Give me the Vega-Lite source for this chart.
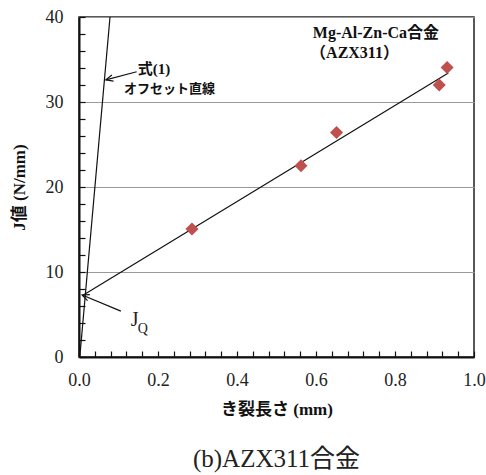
{
  "$schema": "https://vega.github.io/schema/vega-lite/v6.json",
  "autosize": {"type": "none"},
  "width": 395,
  "height": 340,
  "padding": {"left": 79, "top": 17, "right": 12, "bottom": 118},
  "background": "white",
  "config": {
    "view": {"stroke": "#222", "strokeWidth": 1.5},
    "font": "'Liberation Serif', 'Noto Sans CJK JP'",
    "axis": {
      "domainColor": "#111", "domainWidth": 2, "tickColor": "#111", "tickWidth": 1.2,
      "labelFont": "Liberation Serif", "labelFontSize": 18, "labelColor": "#222", "labelOverlap": false,
      "titleFont": "'Liberation Serif', 'Noto Sans CJK JP'", "titleFontSize": 17, "titleFontWeight": "bold", "titleColor": "#111"
    }
  },
  "title": {"text": "(b)AZX311合金", "orient": "bottom", "anchor": "middle", "offset": 30, "fontSize": 25, "fontWeight": "normal", "font": "'Liberation Serif', 'Noto Sans CJK JP'", "color": "#222"},
  "datasets": {
    "pts": [
      {"a": 0.286, "J": 15.05},
      {"a": 0.562, "J": 22.5},
      {"a": 0.652, "J": 26.4},
      {"a": 0.912, "J": 32.0},
      {"a": 0.932, "J": 34.05}
    ],
    "segs": [
      {"seg": "fit", "a": 0.008, "J": 7.2},
      {"seg": "fit", "a": 0.935, "J": 33.4},
      {"seg": "offset", "a": 0.002, "J": 0},
      {"seg": "offset", "a": 0.0785, "J": 40},
      {"seg": "arrow1", "a": 0.146, "J": 33.56},
      {"seg": "arrow1", "a": 0.068, "J": 32.6},
      {"seg": "arrowQ", "a": 0.106, "J": 5.4},
      {"seg": "arrowQ", "a": 0.008, "J": 7.3}
    ],
    "labels": [
      {"t": "Mg-Al-Zn-Ca合金", "a": 0.592, "J": 38.1, "k": "alloy"},
      {"t": "（AZX311）", "a": 0.585, "J": 35.8, "k": "alloy"},
      {"t": "式(1)", "a": 0.149, "J": 33.9, "k": "eq"},
      {"t": "オフセット直線", "a": 0.114, "J": 31.5, "k": "off"}
    ]
  },
  "layer": [
    {
      "data": {"name": "segs"},
      "mark": {"type": "line", "color": "#111", "strokeWidth": 1.2, "clip": true},
      "encoding": {
        "x": {"field": "a", "type": "quantitative", "scale": {"domain": [0, 1], "nice": false},
          "axis": {"values": [0,0.04,0.08,0.12,0.16,0.2,0.24,0.28,0.32,0.36,0.4,0.44,0.48,0.52,0.56,0.6,0.64,0.68,0.72,0.76,0.8,0.84,0.88,0.92,0.96,1.0],
            "tickCount": 100,
            "labelExpr": "abs(datum.value*5 - round(datum.value*5)) < 0.001 ? format(datum.value, '.1f') : ''",
            "tickSize": -6, "labelPadding": 20, "grid": false, "title": "き裂長さ (mm)", "titlePadding": 12, "labelFlush": false}},
        "y": {"field": "J", "type": "quantitative", "scale": {"domain": [0, 40], "nice": false},
          "axis": {"values": [0,2,4,6,8,10,12,14,16,18,20,22,24,26,28,30,32,34,36,38,40],
            "tickCount": 100,
            "labelExpr": "datum.value % 10 === 0 ? format(datum.value, 'd') : ''",
            "tickSize": -6, "labelPadding": 22, "grid": true, "gridWidth": 1,
            "gridColor": {"condition": {"test": "datum.value % 10 === 0", "value": "#999999"}, "value": "transparent"},
            "title": "J値 (N/mm)", "titlePadding": 17, "labelFlush": false}},
        "detail": {"field": "seg"},
        "order": {"field": "a"}
      }
    },
    {
      "data": {"name": "segs"},
      "transform": [{"filter": "datum.seg === 'arrow1' && datum.a < 0.1"}],
      "mark": {"type": "point", "shape": "M-0.45,1L0,0L0.45,1", "filled": false, "stroke": "#111", "strokeWidth": 1.2, "size": 200, "angle": 255, "opacity": 1},
      "encoding": {"x": {"field": "a", "type": "quantitative"}, "y": {"field": "J", "type": "quantitative"}}
    },
    {
      "data": {"name": "segs"},
      "transform": [{"filter": "datum.seg === 'arrowQ' && datum.a < 0.05"}],
      "mark": {"type": "point", "shape": "M-0.45,1L0,0L0.45,1", "filled": false, "stroke": "#111", "strokeWidth": 1.2, "size": 200, "angle": 292, "opacity": 1},
      "encoding": {"x": {"field": "a", "type": "quantitative"}, "y": {"field": "J", "type": "quantitative"}}
    },
    {
      "data": {"name": "pts"},
      "mark": {"type": "point", "shape": "diamond", "filled": true, "color": "#c0504d", "size": 170, "opacity": 1},
      "encoding": {"x": {"field": "a", "type": "quantitative"}, "y": {"field": "J", "type": "quantitative"}}
    },
    {
      "data": {"name": "labels"},
      "transform": [{"filter": "datum.k === 'alloy'"}],
      "mark": {"type": "text", "align": "left", "baseline": "middle", "fontSize": 16, "fontWeight": "bold", "font": "'Liberation Serif', 'Noto Sans CJK JP'", "color": "#111"},
      "encoding": {"x": {"field": "a", "type": "quantitative"}, "y": {"field": "J", "type": "quantitative"}, "text": {"field": "t"}}
    },
    {
      "data": {"name": "labels"},
      "transform": [{"filter": "datum.k === 'eq'"}],
      "mark": {"type": "text", "align": "left", "baseline": "middle", "fontSize": 15, "fontWeight": "bold", "font": "'Liberation Serif', 'Noto Sans CJK JP'", "color": "#111"},
      "encoding": {"x": {"field": "a", "type": "quantitative"}, "y": {"field": "J", "type": "quantitative"}, "text": {"field": "t"}}
    },
    {
      "data": {"name": "labels"},
      "transform": [{"filter": "datum.k === 'off'"}],
      "mark": {"type": "text", "align": "left", "baseline": "middle", "fontSize": 13, "fontWeight": "bold", "font": "'Liberation Serif', 'Noto Sans CJK JP'", "color": "#111"},
      "encoding": {"x": {"field": "a", "type": "quantitative"}, "y": {"field": "J", "type": "quantitative"}, "text": {"field": "t"}}
    },
    {
      "data": {"values": [{"t": "J", "a": 0.131, "J": 4.3}]},
      "mark": {"type": "text", "align": "left", "baseline": "middle", "fontSize": 20, "font": "Liberation Serif", "color": "#222"},
      "encoding": {"x": {"field": "a", "type": "quantitative"}, "y": {"field": "J", "type": "quantitative"}, "text": {"field": "t"}}
    },
    {
      "data": {"values": [{"t": "Q", "a": 0.149, "J": 3.3}]},
      "mark": {"type": "text", "align": "left", "baseline": "middle", "fontSize": 14, "font": "Liberation Serif", "color": "#222"},
      "encoding": {"x": {"field": "a", "type": "quantitative"}, "y": {"field": "J", "type": "quantitative"}, "text": {"field": "t"}}
    }
  ]
}
